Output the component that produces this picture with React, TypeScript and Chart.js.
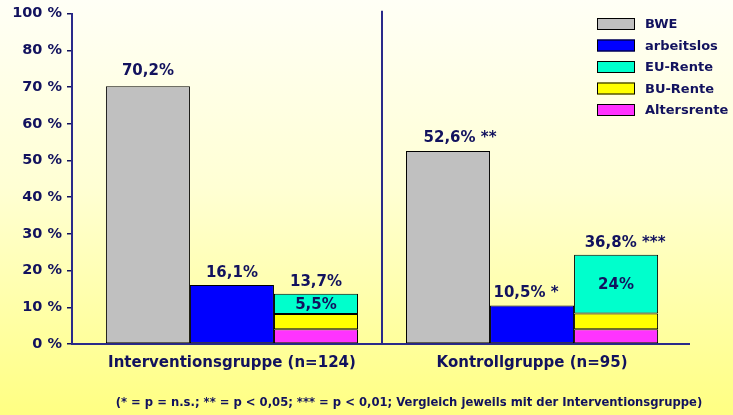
import React, { useEffect, useRef } from 'react';
import { Chart, registerables } from 'chart.js';

Chart.register(...registerables);

const categories = ['Interventionsgruppe (n=124)', 'Kontrollgruppe (n=95)'];
const bwe = [70.2, 52.6];
const arbeitslos = [16.1, 10.5];
const altersrente = [4.0, 4.0];
const buRente = [4.2, 4.3];
const euRente = [5.5, 16.0];

const yTickValues = [0, 10, 20, 30, 40, 50, 60, 70, 80, 90];
const yTickLabels = ['0 %', '10 %', '20 %', '30 %', '40 %', '50 %', '60 %', '70 %', '80 %', '100 %'];

const bweLabels = ['70,2%', '52,6% **'];
const arbeitslosLabels = ['16,1%', '10,5% *'];
const renteTotalLabels = ['13,7%', '36,8% ***'];
const euLabels = ['5,5%', '24%'];

const legendOrder = ['BWE', 'arbeitslos', 'EU-Rente', 'BU-Rente', 'Altersrente'];
const footnote =
  '(* = p = n.s.; ** = p < 0,05; *** = p < 0,01; Vergleich jeweils mit der Interventionsgruppe)';

const NAVY = '#12125e';
const LINE = '#2a2a8a';
const FONT = '"DejaVu Sans", "Liberation Sans", Arial, sans-serif';

const toPoints = (arr: number[]) => arr.map((y, i) => ({ x: i, y }));

const backgroundPlugin = {
  id: 'bgGradient',
  beforeDraw(chart: any) {
    const { ctx, width, height } = chart;
    const g = ctx.createLinearGradient(0, 0, 0, height);
    g.addColorStop(0, '#fffff6');
    g.addColorStop(0.45, '#ffffd4');
    g.addColorStop(1, '#ffff82');
    ctx.save();
    ctx.fillStyle = g;
    ctx.fillRect(0, 0, width, height);
    ctx.restore();
  },
};

const dividerPlugin = {
  id: 'divider',
  beforeDatasetsDraw(chart: any) {
    const { ctx, chartArea, scales } = chart;
    const x = Math.round(scales.x.getPixelForValue(0.5));
    ctx.save();
    ctx.strokeStyle = LINE;
    ctx.lineWidth = 2;
    ctx.beginPath();
    ctx.moveTo(x, chartArea.top - 3);
    ctx.lineTo(x, chartArea.bottom);
    ctx.stroke();
    ctx.restore();
  },
};

const valueLabelPlugin = {
  id: 'valueLabels',
  afterDatasetsDraw(chart: any) {
    const { ctx } = chart;
    ctx.save();
    ctx.fillStyle = NAVY;
    ctx.font = `bold 15px ${FONT}`;
    ctx.textAlign = 'center';
    ctx.textBaseline = 'middle';
    const m0 = chart.getDatasetMeta(0);
    const m1 = chart.getDatasetMeta(1);
    const m4 = chart.getDatasetMeta(4);
    m0.data.forEach((el: any, i: number) => ctx.fillText(bweLabels[i], el.x + (i === 1 ? 12 : 0), el.y - (i === 1 ? 13 : 15)));
    m1.data.forEach((el: any, i: number) => ctx.fillText(arbeitslosLabels[i], el.x - (i === 1 ? 6 : 0), el.y - 12));
    m4.data.forEach((el: any, i: number) => {
      ctx.fillText(renteTotalLabels[i], el.x + (i === 1 ? 9 : 0), el.y - 12);
      ctx.fillText(euLabels[i], el.x, (el.y + el.base) / 2 + 1);
    });
    ctx.restore();
  },
};

const legendPlugin = {
  id: 'customLegend',
  afterDraw(chart: any) {
    const { ctx } = chart;
    const ds = chart.data.datasets;
    ctx.save();
    ctx.font = `bold 13px ${FONT}`;
    ctx.textAlign = 'left';
    ctx.textBaseline = 'middle';
    legendOrder.forEach((label, i) => {
      const d = ds.find((x: any) => x.label === label);
      const cy = 24 + i * 21.5;
      ctx.fillStyle = d.backgroundColor;
      ctx.fillRect(597, cy - 6, 38, 12);
      ctx.strokeStyle = '#000';
      ctx.lineWidth = 1;
      ctx.strokeRect(597.5, cy - 5.5, 37, 11);
      ctx.fillStyle = NAVY;
      ctx.fillText(label, 645, cy + 1);
    });
    ctx.font = `bold 11.6px ${FONT}`;
    ctx.textAlign = 'center';
    ctx.fillText(footnote, 409, 403);
    ctx.restore();
  },
};

export default function App() {
  const ref = useRef<HTMLCanvasElement>(null);
  useEffect(() => {
    if (!ref.current) return;
    const common = { borderColor: '#000', borderWidth: 1, borderSkipped: false };
    const chart = new Chart(ref.current, {
      type: 'bar',
      data: {
        datasets: [
          { label: 'BWE', data: toPoints(bwe), stack: 's1', backgroundColor: '#c0c0c0', ...common },
          { label: 'arbeitslos', data: toPoints(arbeitslos), stack: 's2', backgroundColor: '#0000ff', ...common },
          { label: 'Altersrente', data: toPoints(altersrente), stack: 's3', backgroundColor: '#ff33ff', ...common },
          { label: 'BU-Rente', data: toPoints(buRente), stack: 's3', backgroundColor: '#ffff00', ...common },
          { label: 'EU-Rente', data: toPoints(euRente), stack: 's3', backgroundColor: '#00ffcc', ...common },
        ] as any,
      },
      options: {
        responsive: false,
        animation: false,
        layout: { padding: { left: 0, right: 44, top: 11, bottom: 0 } },
        datasets: { bar: { categoryPercentage: 0.84, barPercentage: 1.0 } } as any,
        plugins: { legend: { display: false }, tooltip: { enabled: false } },
        scales: {
          x: {
            type: 'linear',
            min: -0.533,
            max: 1.523,
            offset: false,
            afterFit: (s: any) => { s.height = 71; },
            afterBuildTicks: (s: any) => { s.ticks = categories.map((_, i) => ({ value: i })); },
            grid: { display: false, drawOnChartArea: false, drawTicks: false },
            border: { display: true, color: LINE, width: 2 },
            ticks: {
              color: NAVY,
              autoSkip: false,
              maxRotation: 0,
              font: { family: FONT, size: 15, weight: 'bold' },
              padding: 10,
              callback: (v: any) => categories[Number(v)] ?? '',
            },
          },
          y: {
            stacked: true,
            min: 0,
            max: 90,
            afterFit: (s: any) => { s.width = 72; },
            afterBuildTicks: (s: any) => { s.ticks = yTickValues.map((v) => ({ value: v })); },
            grid: { drawOnChartArea: false, drawTicks: true, tickLength: 5, color: NAVY, lineWidth: 1.5 },
            border: { display: true, color: LINE, width: 2 },
            ticks: {
              color: NAVY,
              padding: 5,
              font: { family: FONT, size: 14.5, weight: 'bold' },
              callback: (v: any) => yTickLabels[yTickValues.indexOf(Number(v))] ?? '',
            },
          },
        },
      },
      plugins: [backgroundPlugin, dividerPlugin, valueLabelPlugin, legendPlugin],
    });
    return () => chart.destroy();
  }, []);
  return (
    <canvas
      ref={ref}
      width={733}
      height={415}
      style={{ position: 'absolute', left: 0, top: 0, width: 733, height: 415, display: 'block' }}
    />
  );
}
